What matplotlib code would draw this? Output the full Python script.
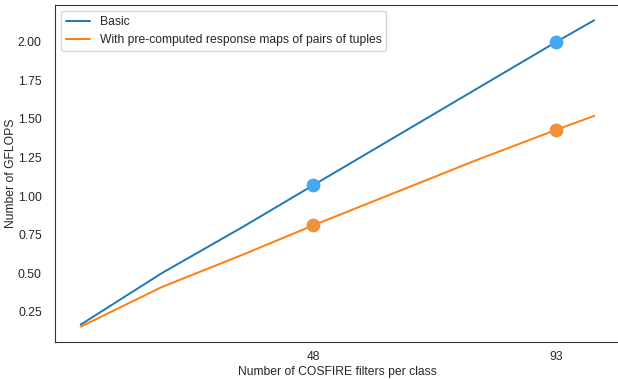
import numpy as np
import matplotlib.pyplot as plt
import seaborn as sns

sns.set_style('white')
plt.rcParams['font.family'] = ['Liberation Sans', 'DejaVu Sans']

# filters per class and cost in GFLOPS
n_filters = [5, 20, 35, 48, 63, 78, 93, 100]
gflops_basic = [0.166, 0.50, 0.80, 1.07, 1.38, 1.69, 2.00, 2.14]
gflops_pairs = [0.153, 0.41, 0.62, 0.81, 1.02, 1.23, 1.43, 1.52]

mark_x = [48, 93]
mark_basic = [1.07, 2.00]
mark_pairs = [0.81, 1.43]

fs = 8.7

fig, ax = plt.subplots(figsize=(6.18, 3.8), dpi=100)
ax.plot(n_filters, gflops_basic, color='#1f77b4', linewidth=1.4, label='Basic')
ax.plot(n_filters, gflops_pairs, color='#ff7f0e', linewidth=1.4,
        label='With pre-computed response maps of pairs of tuples')
ax.scatter(mark_x, mark_basic, s=80, color='#45a8f0', zorder=3)
ax.scatter(mark_x, mark_pairs, s=80, color='#ef913b', zorder=3)

ax.set_xticks(mark_x)
ax.tick_params(axis='x', labelsize=fs, pad=3)
ax.tick_params(axis='y', labelsize=fs, pad=6)
ax.set_xlabel('Number of COSFIRE filters per class', fontsize=fs, labelpad=2)
ax.set_ylabel('Number of GFLOPS', fontsize=fs)
ax.yaxis.set_label_coords(-0.068, 0.5)
ax.legend(loc='upper left', fontsize=fs)
for s in ax.spines.values():
    s.set_color('#333333')
ax.spines['right'].set_visible(False)

fig.subplots_adjust(left=0.089, right=1.003, top=0.987, bottom=0.1)
fig.savefig('out.png')
